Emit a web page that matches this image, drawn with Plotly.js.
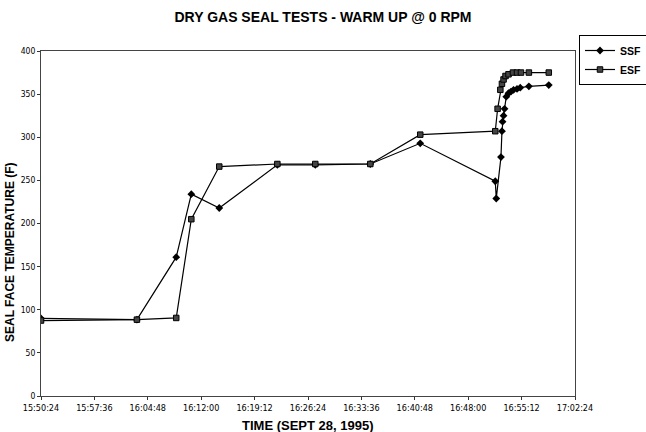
<!DOCTYPE html>
<html>
<head>
<meta charset="utf-8">
<script src="https://cdn.plot.ly/plotly-3.0.1.min.js"></script>
<style>html,body{margin:0;padding:0;background:#fff;}#chart{width:646px;height:432px;}</style>
</head>
<body>
<div id="chart"></div>
<script>
var DAY = '1995-09-28 ';
var ssfTimes = ['15:50:24','16:03:20','16:08:38','16:10:40','16:14:26','16:22:16','16:27:23','16:34:48','16:41:32','16:51:39','16:51:47','16:52:25','16:52:33','16:52:38','16:52:46','16:52:54','16:53:08','16:53:26','16:53:46','16:54:07','16:54:35','16:55:01','16:56:11','16:58:52'];
var ssfValues = [90,88.5,161,234,218,268,268,269,293,249,229,277,307,318,325,333,347,351,353,355,356,357.5,359,360.5];
var esfTimes = ['15:50:24','16:03:20','16:08:38','16:10:40','16:14:26','16:22:16','16:27:23','16:34:48','16:41:32','16:51:39','16:51:58','16:52:20','16:52:33','16:52:46','16:53:02','16:53:26','16:54:02','16:54:35','16:55:07','16:56:11','16:58:52'];
var esfValues = [87.5,88.5,90.5,205,266,269,269,269,303,307,333,355,362,367,371,373,375,375,375,375,375];
var xStart = '15:50:24', xEnd = '17:02:24';
var seriesNames = ['SSF','ESF'];
var chartTitle = 'DRY GAS SEAL TESTS - WARM UP @ 0 RPM';
var xTitle = 'TIME (SEPT 28, 1995)';
var yTitle = 'SEAL FACE TEMPERATURE (F)';

function toDates(a){ return a.map(function(t){ return DAY + t; }); }

var traces = [
  {x: toDates(ssfTimes), y: ssfValues, name: seriesNames[0], type: 'scatter', mode: 'lines+markers',
   line: {color: '#000', width: 1.2}, marker: {symbol: 'diamond', size: 6, color: '#000'}},
  {x: toDates(esfTimes), y: esfValues, name: seriesNames[1], type: 'scatter', mode: 'lines+markers',
   line: {color: '#000', width: 1.2}, marker: {symbol: 'square', size: 5.5, color: '#444', line: {color: '#000', width: 1}}}
];

var FONT = 'Arial, Liberation Sans, sans-serif';
var NARROW = 'Liberation Sans Narrow, Arial Narrow, DejaVu Sans Condensed, sans-serif';
var PW = 534, PH = 345;
var layout = {
  width: 646, height: 432,
  margin: {l: 41, r: 71, t: 51, b: 36, autoexpand: false},
  paper_bgcolor: '#fff', plot_bgcolor: '#fff',
  font: {family: FONT, color: '#000'},
  title: {text: '<b>' + chartTitle + '</b>', font: {size: 14, family: FONT}, x: 0.5, xanchor: 'center', y: 0.96, yanchor: 'middle'},
  xaxis: {
    type: 'date', range: [DAY + xStart, DAY + xEnd],
    tick0: DAY + xStart, dtick: 432000, tickformat: '%H:%M:%S',
    ticks: 'outside', ticklen: 3, tickcolor: '#333',
    showline: true, linecolor: '#444', linewidth: 1, mirror: true,
    showgrid: false, zeroline: false,
    tickfont: {size: 9, family: NARROW}
  },
  yaxis: {
    range: [0, 400], dtick: 50,
    ticks: 'outside', ticklen: 3, tickcolor: '#333',
    showline: true, linecolor: '#444', linewidth: 1, mirror: true,
    showgrid: false, zeroline: false,
    tickfont: {size: 8.5, family: NARROW}
  },
  annotations: [
    {text: '<b>' + yTitle + '</b>', textangle: -90, xref: 'paper', yref: 'paper',
     x: -31 / PW, y: (396 - 252) / PH, xanchor: 'center', yanchor: 'middle', showarrow: false,
     font: {size: 12, family: FONT}},
    {text: '<b>' + xTitle + '</b>', xref: 'paper', yref: 'paper',
     x: 0.5, y: (396 - 425) / PH, xanchor: 'center', yanchor: 'middle', showarrow: false,
     font: {size: 13, family: FONT}}
  ],
  showlegend: true,
  legend: {
    x: (579 - 41) / PW, y: 1 + 16 / PH, xanchor: 'left', yanchor: 'top',
    font: {size: 10.5, family: FONT, weight: 'bold'}, bordercolor: '#000', borderwidth: 1, bgcolor: '#fff',
    tracegroupgap: 0, itemwidth: 30
  }
};

Plotly.newPlot('chart', traces, layout, {displayModeBar: false, staticPlot: true});
</script>
</body>
</html>
